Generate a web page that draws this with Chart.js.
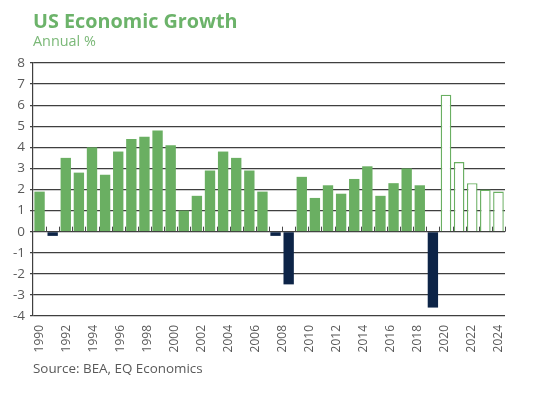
<!DOCTYPE html>
<html>
<head>
<meta charset="utf-8">
<script src="https://cdn.jsdelivr.net/npm/chart.js@4/dist/chart.umd.min.js"></script>
<style>
  html, body { margin: 0; padding: 0; background: #ffffff; }
  #wrap { position: relative; width: 552px; height: 395px; overflow: hidden; font-family: "Open Sans", sans-serif; }
  #wrap canvas { position: absolute; left: 0; top: 0; }
  .t { position: absolute; white-space: nowrap; line-height: 1; }
  #title { left: 33px; top: 10.5px; font-size: 19.8px; font-weight: 700; color: #6cb36a; }
  #sub { left: 33px; top: 34px; font-size: 14.4px; color: #7ab877; }
  #src { left: 33px; top: 362px; font-size: 13.4px; color: #595959; }
</style>
</head>
<body>
<div id="wrap">
  <canvas id="c" width="552" height="395"></canvas>
  <div class="t" id="title">US Economic Growth</div>
  <div class="t" id="sub">Annual %</div>
  <div class="t" id="src">Source: BEA, EQ Economics</div>
</div>
<script>
// Bar categories (one per bar)
const years = ['1990','1991','1992','1993','1994','1995','1996','1997','1998','1999',
               '2000','2001','2002','2003','2004','2005','2006','2007','2008','2009',
               '2010','2011','2012','2013','2014','2015','2016','2017','2018','2019',
               '2020','2021','2022','2023','2024','2025'];
// Axis tick labels as printed on the chart
const tickYears = ['1990','1991','1992','1993','1994','1995','1996','1997','1998','1999',
                   '2000','2001','2002','2003','2004','2005','2006','2007','2008','2009',
                   '2010','2011','2012','2013','2014','2015','2016','2017','2018','2019',
                   '2020','2021','2022','2023','2024'];
// Actual growth, 1990-2020
const actual = [1.9, -0.2, 3.5, 2.8, 4.0, 2.7, 3.8, 4.4, 4.5, 4.8,
                4.1, 1.0, 1.7, 2.9, 3.8, 3.5, 2.9, 1.9, -0.2, -2.5,
                2.6, 1.6, 2.2, 1.8, 2.5, 3.1, 1.7, 2.3, 3.0, 2.2,
                -3.6];
// Forecast growth, 2021-2025
const forecast = [6.5, 3.3, 2.3, 2.0, 1.9];
const yTicks = [-4, -3, -2, -1, 0, 1, 2, 3, 4, 5, 6, 7, 8];

const GREEN = '#6aaf62';
const NAVY = '#0d2447';
const GRID = '#3f3f3f';

const actualData = years.map((y, i) => i < actual.length ? actual[i] : null);
const forecastData = years.map((y, i) => {
  const k = i - actual.length;
  return k >= 0 && k < forecast.length ? forecast[k] : null;
});

const zeroTicks = {
  id: 'zeroTicks',
  afterDatasetsDraw(chart) {
    const x = chart.scales.x, y = chart.scales.y, ctx = chart.ctx;
    const y0 = y.getPixelForValue(0);
    const half = (x.getPixelForValue(1) - x.getPixelForValue(0)) / 2;
    ctx.save();
    ctx.strokeStyle = '#4a4a4a';
    ctx.lineWidth = 1;
    ctx.beginPath();
    for (let i = 1; i <= years.length; i++) {
      const px = Math.round(x.getPixelForValue(i) - half) + 0.5;
      ctx.moveTo(px, y0);
      ctx.lineTo(px, y0 - 5);
    }
    ctx.stroke();
    ctx.restore();
  }
};

new Chart(document.getElementById('c'), {
  type: 'bar',
  data: {
    labels: years,
    datasets: [
      {
        label: 'Actual',
        data: actualData,
        backgroundColor: ctx => (ctx.raw !== null && ctx.raw < 0) ? NAVY : GREEN,
        borderWidth: 0,
        grouped: false,
        categoryPercentage: 1,
        barPercentage: 0.79
      },
      {
        label: 'Forecast',
        data: forecastData,
        backgroundColor: '#ffffff',
        borderColor: GREEN,
        borderWidth: 1.4,
        grouped: false,
        categoryPercentage: 1,
        barPercentage: 0.81
      }
    ]
  },
  options: {
    responsive: false,
    animation: false,
    devicePixelRatio: 1,
    layout: { padding: { left: 0, top: 63, right: 47, bottom: 0 } },
    plugins: { legend: { display: false }, tooltip: { enabled: false }, title: { display: false } },
    scales: {
      x: {
        display: false,
        offset: true
      },
      xl: {
        type: 'category',
        position: 'bottom',
        labels: tickYears,
        offset: true,
        grid: { display: false, drawTicks: false },
        border: { display: false },
        ticks: {
          autoSkip: false,
          minRotation: 90,
          maxRotation: 90,
          padding: 9,
          color: '#595959',
          font: { family: 'Open Sans', size: 12 },
          callback: (v, i) => i % 2 === 0 ? tickYears[i] : ''
        },
        afterFit: s => { s.height = 79; }
      },
      y: {
        min: -4,
        max: 8,
        afterBuildTicks: s => { s.ticks = yTicks.map(v => ({ value: v })); },
        grid: { color: GRID, lineWidth: 1.2, tickLength: 3, drawTicks: true },
        border: { display: true, color: GRID, width: 1.2 },
        ticks: {
          padding: 5,
          color: '#5a5a5a',
          font: { family: 'Open Sans', size: 13.5 }
        },
        afterFit: s => { s.width = 33; }
      }
    }
  },
  plugins: [zeroTicks]
});
</script>
</body>
</html>
